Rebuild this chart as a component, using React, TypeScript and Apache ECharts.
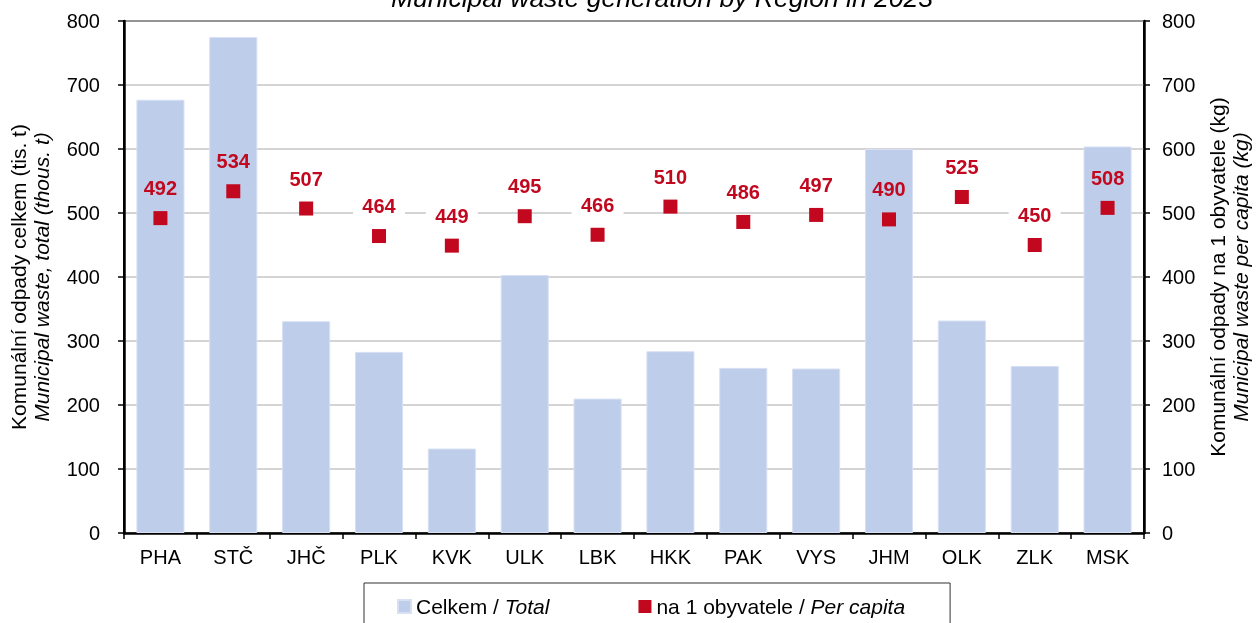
import React, { useEffect, useRef } from "react";
import * as echarts from "echarts";

const categories = ["PHA", "STČ", "JHČ", "PLK", "KVK", "ULK", "LBK", "HKK", "PAK", "VYS", "JHM", "OLK", "ZLK", "MSK"];
const totalValues = [677, 775, 331, 283, 132, 403, 210, 284, 258, 257, 600, 332, 261, 604];
const perCapitaValues = [492, 534, 507, 464, 449, 495, 466, 510, 486, 497, 490, 525, 450, 508];
const yTicks = [0, 100, 200, 300, 400, 500, 600, 700, 800];

const FONT = "'Liberation Sans', Arial, sans-serif";
const BAR_COLOR = "#bdcdea";
const RED = "#c1081e";

export default function App() {
  const ref = useRef<HTMLDivElement>(null);

  useEffect(() => {
    if (!ref.current) return;
    const chart = echarts.init(ref.current, undefined, { renderer: "svg" });
    const yMin = yTicks[0];
    const yMax = yTicks[yTicks.length - 1];
    const yInterval = yTicks[1] - yTicks[0];

    const axisCommon = {
      type: "value",
      min: yMin,
      max: yMax,
      interval: yInterval,
      axisLine: { show: true, lineStyle: { color: "#000", width: 2.5 } },
      axisTick: { show: true, inside: false, length: 6, lineStyle: { color: "#000", width: 1.5 } },
      nameLocation: "middle",
      nameRotate: 90,
    };

    const nameRich = {
      a: { fontFamily: FONT, fontSize: 21, color: "#000", lineHeight: 23 },
      b: { fontFamily: FONT, fontSize: 21, color: "#000", fontStyle: "italic", lineHeight: 23 },
    };

    chart.setOption({
      animation: false,
      textStyle: { fontFamily: FONT },
      title: {
        text: "Municipal waste generation by Region in 2023",
        left: 657,
        textAlign: "center",
        top: -21,
        textStyle: { fontFamily: FONT, fontStyle: "italic", fontWeight: "normal", fontSize: 26.5, color: "#000" },
      },
      grid: {
        left: 122,
        right: 101,
        top: 21,
        bottom: 90,
        show: true,
        borderColor: "#000",
        borderWidth: 2,
        backgroundColor: "transparent",
      },
      legend: {
        data: ["Celkem / Total", "na 1 obyvatele / Per capita"],
        left: 364,
        top: 583,
        orient: "horizontal",
        padding: [13, 45, 14, 33],
        itemGap: 89,
        itemWidth: 13,
        itemHeight: 13,
        borderColor: "#333",
        borderWidth: 1,
        backgroundColor: "#fff",
        icon: "rect",
        formatter: (name: string) => {
          const parts = name.split(" / ");
          return "{n|" + parts[0] + " / }{i|" + parts[1] + "}";
        },
        textStyle: {
          fontFamily: FONT,
          fontSize: 21,
          color: "#000",
          rich: {
            n: { fontFamily: FONT, fontSize: 21, color: "#000" },
            i: { fontFamily: FONT, fontSize: 21, color: "#000", fontStyle: "italic" },
          },
        },
      },
      xAxis: {
        type: "category",
        data: categories,
        boundaryGap: true,
        axisLine: { show: true, onZero: false, lineStyle: { color: "#000", width: 2.5 } },
        axisTick: { show: true, alignWithLabel: false, interval: 0, length: 6, lineStyle: { color: "#000", width: 1.5 } },
        axisLabel: { interval: 0, margin: 14, fontSize: 20, color: "#000", fontFamily: FONT },
        splitLine: { show: false },
      },
      yAxis: [
        {
          ...axisCommon,
          position: "left",
          axisLabel: { margin: 24, fontSize: 20, color: "#000", fontFamily: FONT },
          splitLine: { show: true, lineStyle: { color: "#c6c6c6", width: 1.5 } },
          name: "{a|Komunální odpady celkem (tis. t)}\n{b|Municipal waste, total (thous. t)}",
          nameGap: 71,
          nameTextStyle: { rich: nameRich },
        },
        {
          ...axisCommon,
          position: "right",
          axisLabel: { margin: 18, fontSize: 20, color: "#000", fontFamily: FONT },
          splitLine: { show: false },
          name: "{a|Komunální odpady na 1 obyvatele (kg)}\n{b|Municipal waste per capita (kg)}",
          nameGap: 62,
          nameTextStyle: { rich: nameRich },
        },
      ],
      series: [
        {
          name: "labelBackground",
          type: "scatter",
          yAxisIndex: 1,
          data: perCapitaValues,
          z: 1,
          symbol: "rect",
          symbolSize: 14,
          silent: true,
          itemStyle: { color: "rgba(0,0,0,0)", opacity: 1 },
          label: {
            show: true,
            position: "top",
            distance: 12,
            formatter: " ",
            width: 52,
            height: 22,
            backgroundColor: "#fff",
            fontSize: 20,
          },
        },
        {
          name: "Celkem / Total",
          type: "bar",
          yAxisIndex: 0,
          data: totalValues,
          barWidth: "66%",
          z: 2,
          itemStyle: { color: BAR_COLOR, borderColor: "#d8e1f3", borderWidth: 1 },
        },
        {
          name: "na 1 obyvatele / Per capita",
          type: "scatter",
          yAxisIndex: 1,
          data: perCapitaValues,
          z: 3,
          symbol: "rect",
          symbolSize: 14,
          itemStyle: { color: RED, opacity: 1 },
          label: {
            show: true,
            position: "top",
            distance: 12,
            formatter: "{c}",
            color: RED,
            opacity: 1,
            fontWeight: "bold",
            fontSize: 20,
            lineHeight: 20,
            padding: [1, 0],
            fontFamily: FONT,
          },
        },
      ],
    });

    return () => {
      chart.dispose();
    };
  }, []);

  return (
    <div
      ref={ref}
      style={{ position: "fixed", left: 0, top: 0, width: 1259, height: 623 }}
    />
  );
}
